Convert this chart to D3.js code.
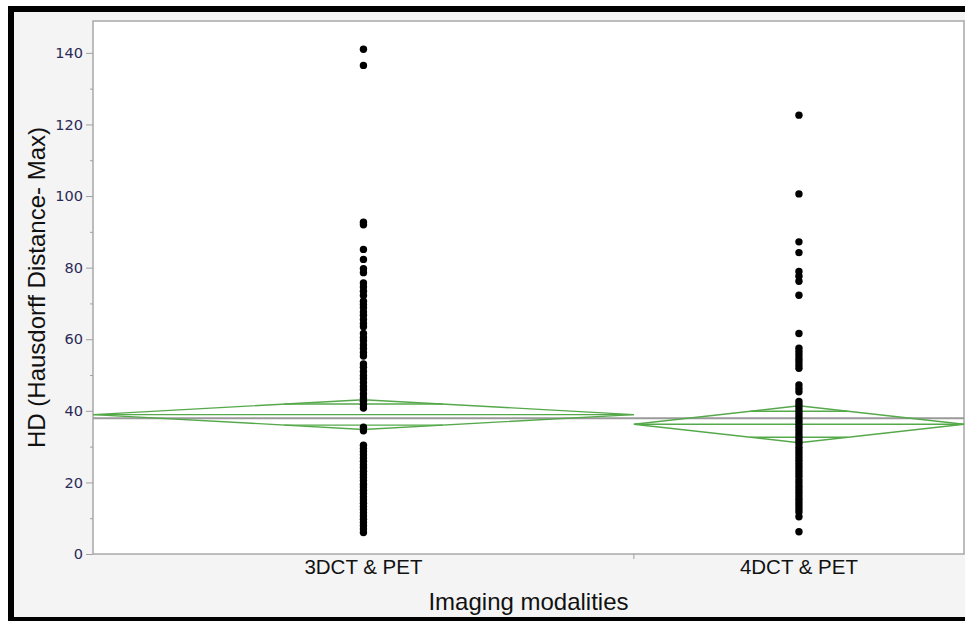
<!DOCTYPE html>
<html>
<head>
<meta charset="utf-8">
<script src="https://cdn.jsdelivr.net/npm/d3@7"></script>
<style>
  html, body { margin: 0; padding: 0; background: #ffffff; }
  svg { display: block; }
</style>
</head>
<body>
<div id="chart"></div>
<script>
// ---------------- data ----------------
const categories = ["3DCT & PET", "4DCT & PET"];
const groupN = [136, 83];
const group1 = [141.0, 136.5, 92.7, 92.0, 85.1, 82.3, 79.7, 78.6, 75.7, 74.6, 73.4, 72.2,
  70.6, 69.7, 68.8, 67.6, 66.7, 65.5, 64.4, 63.5, 61.6, 60.5, 59.6, 58.4, 57.4, 56.3, 55.3,
  53.1, 52.2, 51.0, 49.9, 49.0, 47.9, 46.8, 45.9, 44.7, 43.6, 42.7, 41.7, 40.8, 35.4, 34.4,
  30.4, 29.5, 28.6, 27.7, 26.8, 25.9, 24.9, 24.1, 23.1, 22.2, 21.4, 20.5, 19.5, 18.7, 17.8,
  16.9, 15.9, 15.1, 14.2, 13.3, 12.4, 11.5, 10.6, 9.7, 8.8, 7.9, 7.0, 6.0];
const group2 = [122.6, 100.6, 87.2, 84.2, 78.9, 77.6, 76.2, 72.3, 61.6, 57.5, 56.5, 55.6,
  54.6, 53.8, 52.8, 51.9, 47.2, 46.2, 45.3, 42.6, 41.7, 40.8, 39.8, 38.9, 38.0, 37.1, 36.2,
  35.3, 34.4, 33.5, 32.6, 31.7, 30.8, 29.8, 28.9, 28.0, 27.1, 26.2, 25.3, 24.4, 23.5, 22.6,
  21.7, 20.7, 19.8, 18.9, 18.0, 17.1, 16.2, 15.3, 14.4, 13.5, 12.6, 11.7, 10.4, 6.2];
const groupValues = [group1, group2];
const means = [38.95, 36.25];
const ciLow = [34.8, 31.1];
const ciHigh = [43.1, 41.4];
const grandMean = 37.9;
const yMajorTicks = [0, 20, 40, 60, 80, 100, 120, 140];
const yMinorTicks = [10, 30, 50, 70, 90, 110, 130];
const yMax = 148.9;
const yTitle = "HD (Hausdorff Distance- Max)";
const xTitle = "Imaging modalities";

// ---------------- layout ----------------
const W = 965, H = 621;
const plot = { left: 93, right: 964, top: 21, bottom: 554 };
const green = "#55a94a";

const svg = d3.select("#chart").append("svg")
  .attr("width", W).attr("height", H);

// frame
svg.append("rect").attr("x", 0).attr("y", 0).attr("width", W).attr("height", H).attr("fill", "#ffffff");
svg.append("rect").attr("x", 8).attr("y", 6).attr("width", W).attr("height", H).attr("fill", "#000000");
svg.append("rect").attr("x", 14).attr("y", 12).attr("width", W).attr("height", 605).attr("fill", "#f4f4f4");

// plot area
svg.append("rect")
  .attr("x", plot.left).attr("y", plot.top)
  .attr("width", plot.right - plot.left).attr("height", plot.bottom - plot.top)
  .attr("fill", "#ffffff").attr("stroke", "#a8a8a8").attr("stroke-width", 1.5);

// scales
const y = d3.scaleLinear().domain([0, yMax]).range([plot.bottom, plot.top]);
const cum = [0];
groupN.forEach((n, i) => cum.push(cum[i] + n));
const xN = d3.scaleLinear().domain([0, cum[cum.length - 1]]).range([plot.left, plot.right]);
const bands = categories.map((c, i) => ({
  name: c,
  x0: xN(cum[i]),
  x1: xN(cum[i + 1]),
  xc: xN(cum[i] + groupN[i] / 2),
  mean: means[i], lo: ciLow[i], hi: ciHigh[i],
  values: groupValues[i]
}));

// y axis
const yAxis = d3.axisLeft(y).tickValues(yMajorTicks).tickSize(7).tickPadding(3);
const gy = svg.append("g").attr("transform", `translate(${plot.left},0)`).call(yAxis);
gy.select(".domain").remove();
gy.selectAll(".tick line").attr("stroke", "#a0a0a0");
gy.selectAll(".tick text")
  .attr("fill", "#2a2a58")
  .style("font-family", "'DejaVu Sans', Verdana, sans-serif")
  .style("font-size", "14.5px")
  .style("font-weight", "500");
const gyMinor = svg.append("g").attr("transform", `translate(${plot.left},0)`)
  .call(d3.axisLeft(y).tickValues(yMinorTicks).tickSize(3).tickFormat(""));
gyMinor.select(".domain").remove();
gyMinor.selectAll(".tick line").attr("stroke", "#a0a0a0");

// x separators
svg.selectAll("line.sep").data(bands.slice(1)).enter().append("line")
  .attr("class", "sep")
  .attr("x1", d => d.x0).attr("x2", d => d.x0)
  .attr("y1", plot.bottom).attr("y2", plot.bottom + 5)
  .attr("stroke", "#a0a0a0").attr("stroke-width", 1);

// x tick labels
svg.selectAll("text.xlab").data(bands).enter().append("text")
  .attr("class", "xlab")
  .attr("x", d => d.xc).attr("y", 574)
  .attr("text-anchor", "middle")
  .style("font-family", "'Liberation Sans', Arial, sans-serif")
  .style("font-size", "20.5px")
  .attr("fill", "#111")
  .text(d => d.name);

// axis titles
svg.append("text")
  .attr("x", (plot.left + plot.right) / 2).attr("y", 610)
  .attr("text-anchor", "middle")
  .style("font-family", "'Liberation Sans', Arial, sans-serif")
  .style("font-size", "24px")
  .attr("fill", "#111")
  .text(xTitle);
svg.append("text")
  .attr("transform", `translate(45,${(plot.top + plot.bottom) / 2}) rotate(-90)`)
  .attr("text-anchor", "middle")
  .style("font-family", "'Liberation Sans', Arial, sans-serif")
  .style("font-size", "24px")
  .attr("fill", "#111")
  .text(yTitle);

// grand mean line
svg.append("line")
  .attr("x1", plot.left).attr("x2", plot.right)
  .attr("y1", y(grandMean)).attr("y2", y(grandMean))
  .attr("stroke", "#9a9a9a").attr("stroke-width", 2);

// diamonds
const gd = svg.append("g").attr("fill", "none").attr("stroke", green).attr("stroke-width", 1.4);
bands.forEach(b => {
  const pts = [[b.x0, y(b.mean)], [b.xc, y(b.hi)], [b.x1, y(b.mean)], [b.xc, y(b.lo)]];
  gd.append("path").attr("d", d3.line()(pts) + "Z");
  gd.append("line").attr("x1", b.x0).attr("x2", b.x1)
    .attr("y1", y(b.mean)).attr("y2", y(b.mean));
  const f = 1 / Math.SQRT2;
  const hw = (1 - f) * (b.x1 - b.x0) / 2;
  [b.mean + (b.hi - b.mean) * f, b.mean - (b.mean - b.lo) * f].forEach(v => {
    gd.append("line").attr("x1", b.xc - hw).attr("x2", b.xc + hw)
      .attr("y1", y(v)).attr("y2", y(v));
  });
});

// points
bands.forEach(b => {
  svg.append("g").selectAll("circle").data(b.values).enter().append("circle")
    .attr("cx", b.xc).attr("cy", d => y(d)).attr("r", 3.7)
    .attr("fill", "#000");
});
</script>
</body>
</html>
